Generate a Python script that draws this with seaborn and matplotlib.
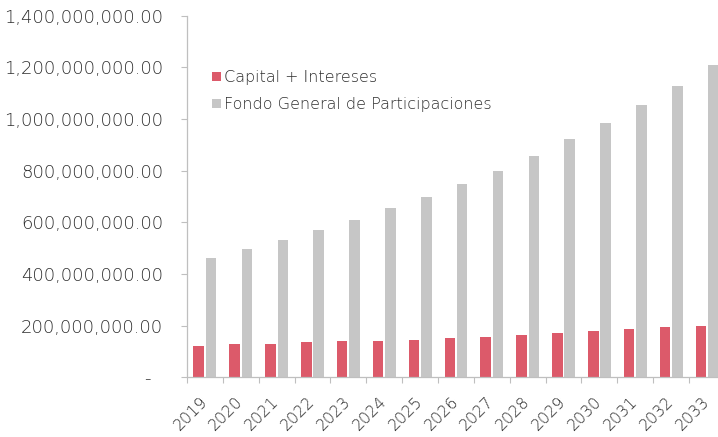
import matplotlib
matplotlib.use("Agg")
import matplotlib.pyplot as plt
from matplotlib.patches import Patch
from matplotlib.ticker import FuncFormatter, MultipleLocator, FixedLocator
import seaborn as sns
import pandas as pd

years = ["2019", "2020", "2021", "2022", "2023", "2024", "2025", "2026",
         "2027", "2028", "2029", "2030", "2031", "2032", "2033"]
capital_intereses = [123e6, 128e6, 129e6, 137e6, 141e6, 142e6, 146e6, 151e6,
                     155e6, 164e6, 173e6, 178e6, 186e6, 195e6, 199e6]
fondo_general = [461e6, 496e6, 531e6, 569e6, 608e6, 654e6, 699e6, 748e6,
                 800e6, 856e6, 921e6, 985e6, 1053e6, 1128e6, 1208e6]
series_names = ["Capital + Intereses", "Fondo General de Participaciones"]
colors = ["#DC5A6A", "#C6C6C6"]

df = pd.DataFrame({
    "year": years * 2,
    "value": capital_intereses + fondo_general,
    "serie": [series_names[0]] * len(years) + [series_names[1]] * len(years),
})

sns.set_style("white")
plt.rcParams["font.family"] = ["DejaVu Sans"]
plt.rcParams["font.weight"] = "light"

fig = plt.figure(figsize=(7.18, 4.37), dpi=100)
ax = fig.add_axes([0.2604, 0.1364, 0.7493, 0.8281])

sns.barplot(data=df, x="year", y="value", hue="serie", order=years,
            hue_order=series_names, palette=colors, width=0.69, gap=0.15,
            ax=ax, legend=False, saturation=1, edgecolor="none")

ax.set_ylim(0, 1400e6)
ax.set_xlim(-0.5, len(years) - 0.5)
ax.yaxis.set_major_locator(MultipleLocator(200e6))

def fmt(v, pos):
    if abs(v) < 1:
        return "-  "
    return f"{v:,.2f}"

ax.yaxis.set_major_formatter(FuncFormatter(fmt))
ax.set_xlabel("")
ax.set_ylabel("")

for s in ["top", "right"]:
    ax.spines[s].set_visible(False)
for s in ["left", "bottom"]:
    ax.spines[s].set_color("#BFBFBF")
    ax.spines[s].set_linewidth(0.9)

txt_color = "#2E2E2E"
ax.tick_params(axis="y", length=4, width=0.8, color="#BFBFBF", pad=13,
               labelsize=13, labelcolor=txt_color, left=True)
ax.tick_params(axis="x", which="major", length=0, pad=16, labelsize=11.5,
               labelcolor=txt_color)
ax.xaxis.set_minor_locator(FixedLocator([i - 0.5 for i in range(len(years) + 1)]))
ax.tick_params(axis="x", which="minor", length=4, width=0.8, color="#BFBFBF",
               bottom=True)
for lab in ax.get_xticklabels():
    lab.set_rotation(45)
    lab.set_ha("right")
    lab.set_va("center")
    lab.set_rotation_mode("anchor")

handles = [Patch(facecolor=c, edgecolor="none") for c in colors]
fig.legend(handles, series_names, loc="upper left",
           bbox_to_anchor=(212 / 718, 1 - 70 / 437), frameon=False,
           fontsize=11.5, labelcolor=txt_color, handlelength=0.55,
           handleheight=0.55, handletextpad=0.2, labelspacing=0.75,
           borderpad=0, borderaxespad=0)

fig.savefig("out.png", dpi=100)
